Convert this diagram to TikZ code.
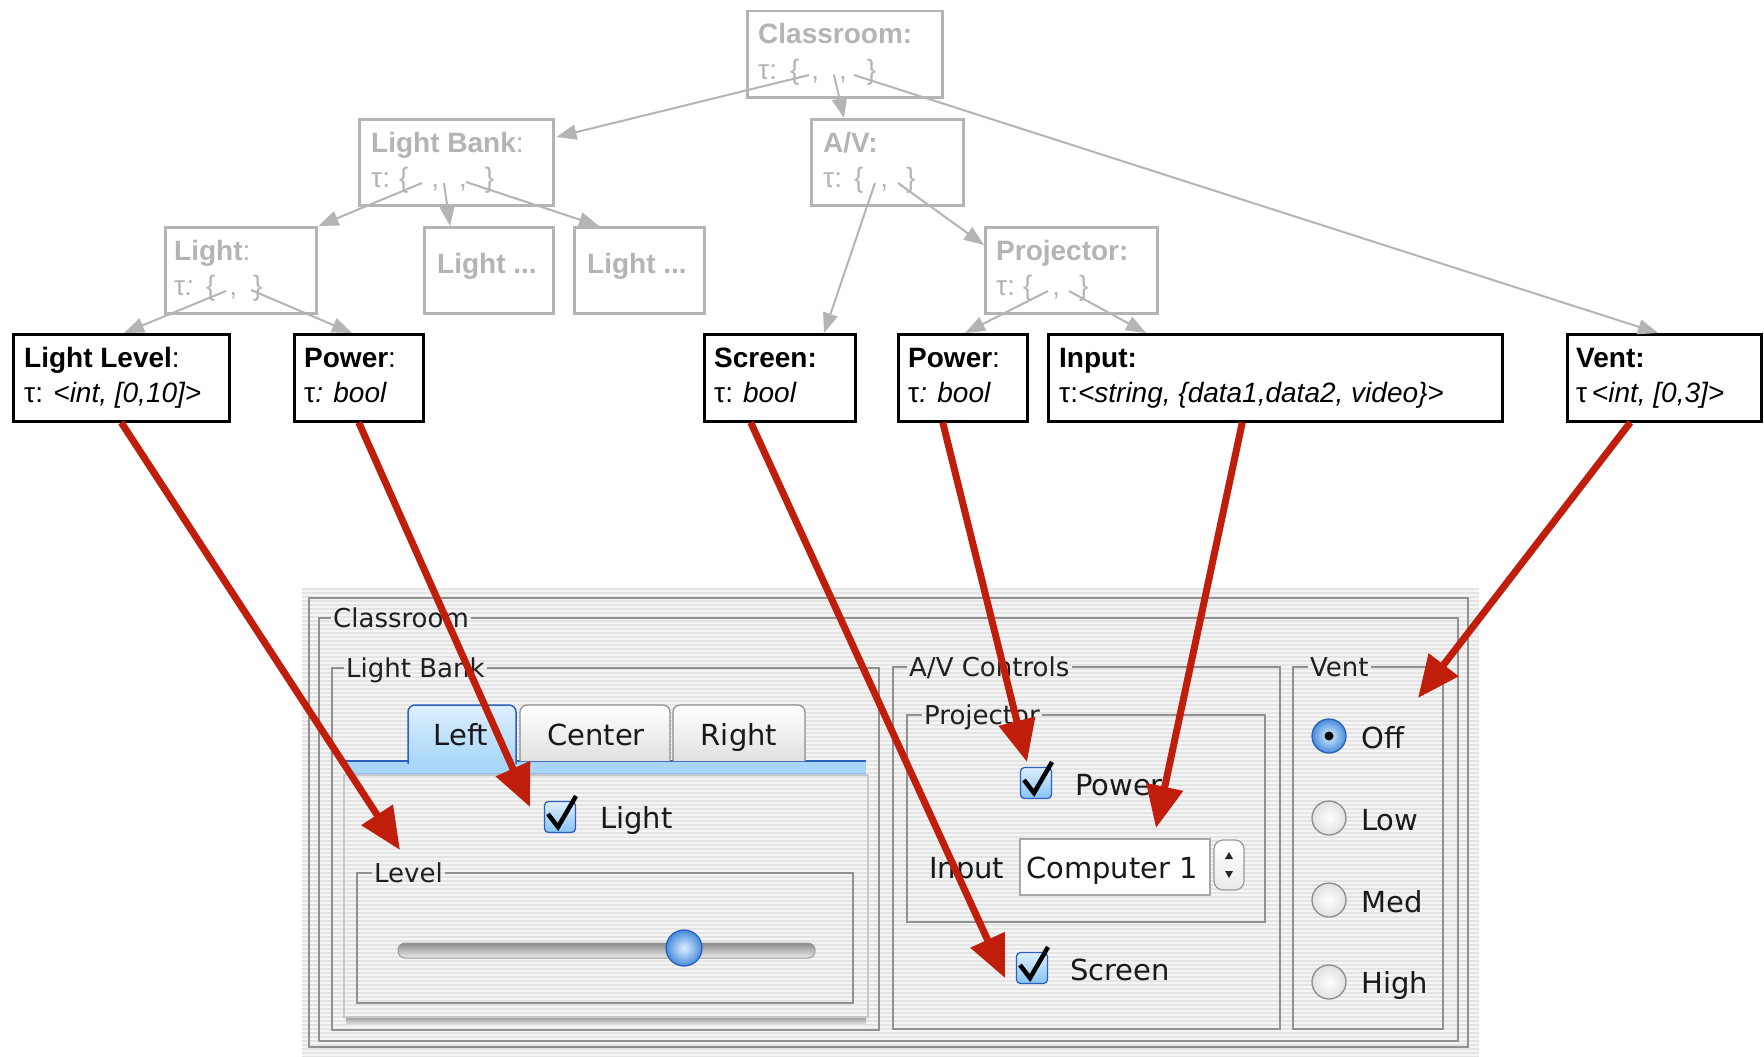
\documentclass[tikz,border=0pt]{standalone}
\usepackage{fontspec}
\newfontfamily\treefont{Liberation Sans}
\newfontfamily\guifont{DejaVu Sans}
\usetikzlibrary{arrows.meta,calc}
\definecolor{treegray}{RGB}{180,180,180}
\definecolor{arrowred}{RGB}{192,30,10}
\definecolor{bgA}{RGB}{245,245,245}
\definecolor{bgB}{RGB}{228,228,228}
\definecolor{grpline}{RGB}{145,145,145}
\definecolor{aquaLight}{RGB}{222,239,253}
\definecolor{aquaMid}{RGB}{135,194,244}
\definecolor{aquaDark}{RGB}{70,140,220}
\definecolor{aquaBorder}{RGB}{45,95,190}
\definecolor{barBlue}{RGB}{168,214,248}
\tikzset{
  gbox/.style={draw=treegray, line width=2.5pt, anchor=north west, inner sep=0pt},
  bbox/.style={draw=black, line width=2.5pt, anchor=north west, inner sep=0pt},
  gtxt/.style={font=\treefont\fontsize{28}{30}\selectfont, text=treegray, anchor=base west, inner sep=0pt},
  btxt/.style={font=\treefont\fontsize{28}{30}\selectfont, text=black, anchor=base west, inner sep=0pt},
  garr/.style={draw=treegray, line width=2pt, -{Triangle[length=20pt,width=15pt]}},
  redarr/.style={draw=arrowred, line width=7pt, -{Triangle[length=42pt,width=36pt]}},
  grp/.style={draw=grpline, line width=1.8pt},
  gtitle/.style={font=\guifont\fontsize{26}{28}\selectfont, text=black!88, anchor=west, inner xsep=2pt, inner ysep=0pt, text height=19pt, text depth=0pt},
  glabel/.style={font=\guifont\fontsize{29}{31}\selectfont, text=black!90, anchor=base west, inner sep=0pt},
  chk/.style={rectangle, rounded corners=4pt, minimum size=31pt, inner sep=0pt, draw=aquaBorder, line width=1.3pt, top color=aquaLight, bottom color=aquaMid},
  chkmark/.style={draw=black, line width=4.5pt, line join=miter},
  knob/.style={circle, minimum size=36pt, inner sep=0pt, draw=aquaBorder, line width=1.3pt, inner color=aquaLight, outer color=aquaDark},
  radOn/.style={circle, minimum size=34pt, inner sep=0pt, draw=aquaBorder, line width=1.3pt, inner color=aquaLight, outer color=aquaDark},
  radOff/.style={circle, minimum size=34pt, inner sep=0pt, draw=black!45, line width=1.3pt, inner color=white, outer color=black!12},
  field/.style={rectangle, minimum width=190pt, minimum height=56pt, inner sep=0pt, fill=white, draw=black!35, line width=1.2pt},
  spin/.style={rectangle, rounded corners=9pt, minimum width=30pt, minimum height=50pt, inner sep=0pt, draw=black!40, line width=1.2pt, top color=white, bottom color=black!8}
}
\begin{document}
\begin{tikzpicture}[x=1pt,y=-1pt]
\useasboundingbox (0,0) rectangle (1764,1057);
\fill[white] (0,0) rectangle (1764,1057);

% ---------- GUI screenshot ----------
\fill[bgA] (302,588) rectangle (1479,1057);
\foreach \yy in {589,593,...,1057} {\draw[bgB, line width=2pt] (302,\yy) -- (1479,\yy);}
\draw[grp] (309,598) rectangle (1468,1047);

\node[gtitle] (tCls) at (331,618) {Classroom};
\draw[grp] (tCls.east) -- (1458,618) -- (1458,1041) -- (319,1041) -- (319,618) -- (tCls.west);

\node[gtitle] (tLB) at (344,668) {Light Bank};
\draw[grp] (tLB.east) -- (879,668) -- (879,1030) -- (332,1030) -- (332,668) -- (tLB.west);

% tab content panel
\shade[top color=black!40, bottom color=bgA] (346,1017) rectangle (866,1026);
\draw[black!22, line width=1.2pt] (344,775) rectangle (868,1017);
\fill[barBlue] (346,761) rectangle (866,773);
\draw[aquaBorder, line width=1.5pt] (346,761) -- (866,761);
\draw[aquaDark!60, line width=1pt] (346,773) -- (866,773);
\shadedraw[top color=white, bottom color=black!12, draw=black!45, line width=1.2pt, rounded corners=7pt] (520,761) -- (520,705) -- (670,705) -- (670,761);
\shadedraw[top color=white, bottom color=black!12, draw=black!45, line width=1.2pt, rounded corners=7pt] (673,761) -- (673,705) -- (805,705) -- (805,761);
\shadedraw[top color=aquaLight, bottom color=barBlue, draw=aquaBorder, line width=1.5pt, rounded corners=7pt] (408,764) -- (408,705) -- (516,705) -- (516,764);
\node[glabel, anchor=base] (tabL) at (461,745) {Left};
\node[glabel, anchor=base] (tabC) at (596,745) {Center};
\node[glabel, anchor=base] (tabR) at (739,745) {Right};

\node[chk] (cbL) at (560,817) {};
\draw[chkmark] ($(cbL.center)+(-12,-3)$) -- ($(cbL.center)+(-2,10)$) -- ($(cbL.center)+(16,-21)$);
\node[glabel] (lbLight) at (600,828) {Light};

\node[gtitle] (tLev) at (372,873) {Level};
\draw[grp] (tLev.east) -- (853,873) -- (853,1003) -- (357,1003) -- (357,873) -- (tLev.west);
\shadedraw[top color=black!45, bottom color=black!8, draw=black!40, line width=1pt, rounded corners=7pt] (398,943) rectangle (815,958);
\node[knob] (knob) at (684,948) {};

\node[gtitle] (tAV) at (907,667) {A/V Controls};
\draw[grp] (tAV.east) -- (1280,667) -- (1280,1029) -- (893,1029) -- (893,667) -- (tAV.west);
\node[gtitle] (tPj) at (922,715) {Projector};
\draw[grp] (tPj.east) -- (1265,715) -- (1265,922) -- (907,922) -- (907,715) -- (tPj.west);

\node[chk] (cbP) at (1036,783) {};
\draw[chkmark] ($(cbP.center)+(-12,-3)$) -- ($(cbP.center)+(-2,10)$) -- ($(cbP.center)+(16,-21)$);
\node[glabel] (lbP) at (1075,795) {Power};
\node[glabel] (lbI) at (929,878) {Input};
\node[field] (fld) at (1115,867) {};
\node[glabel] (fldT) at (1026,878) {Computer 1};
\node[spin] (spn) at (1229,865) {};
\fill[black!85] ($(spn.center)+(-4,-6)$) -- ($(spn.center)+(4,-6)$) -- ($(spn.center)+(0,-13)$) -- cycle;
\fill[black!85] ($(spn.center)+(-4,6)$) -- ($(spn.center)+(4,6)$) -- ($(spn.center)+(0,13)$) -- cycle;

\node[chk] (cbS) at (1032,968) {};
\draw[chkmark] ($(cbS.center)+(-12,-3)$) -- ($(cbS.center)+(-2,10)$) -- ($(cbS.center)+(16,-21)$);
\node[glabel] (lbS) at (1070,980) {Screen};

\node[gtitle] (tVt) at (1308,667) {Vent};
\draw[grp] (tVt.east) -- (1443,667) -- (1443,1029) -- (1293,1029) -- (1293,667) -- (tVt.west);
\node[radOn] (rOff) at (1329,736) {};
\fill[black] (rOff.center) circle (4.5pt);
\node[radOff] (rLow) at (1329,818) {};
\node[radOff] (rMed) at (1329,900) {};
\node[radOff] (rHigh) at (1329,982) {};
\node[glabel] (lOff) at (1361,748) {Off};
\node[glabel] (lLow) at (1361,830) {Low};
\node[glabel] (lMed) at (1361,912) {Med};
\node[glabel] (lHigh) at (1361,993) {High};

% ---------- tree ----------
\node[gbox, minimum width=195pt, minimum height=86pt] (cls) at (746,10) {};
\node[gbox, minimum width=194pt, minimum height=86pt] (lb) at (358,118) {};
\node[gbox, minimum width=152pt, minimum height=86pt] (av) at (810,118) {};
\node[gbox, minimum width=151pt, minimum height=86pt] (light) at (164,226) {};
\node[gbox, minimum width=129pt, minimum height=86pt] (l1) at (423,226) {};
\node[gbox, minimum width=130pt, minimum height=86pt] (l2) at (573,226) {};
\node[gbox, minimum width=172pt, minimum height=86pt] (proj) at (984,226) {};

\node[bbox, minimum width=216pt, minimum height=87pt] (ll) at (12,333) {};
\node[bbox, minimum width=129pt, minimum height=87pt] (pw1) at (293,333) {};
\node[bbox, minimum width=151pt, minimum height=87pt] (scr) at (703,333) {};
\node[bbox, minimum width=129pt, minimum height=87pt] (pw2) at (897,333) {};
\node[bbox, minimum width=454pt, minimum height=87pt] (inp) at (1047,333) {};
\node[bbox, minimum width=194pt, minimum height=87pt] (vent) at (1566,333) {};

\node[gtxt] (clsA) at ($(cls.north west)+(12,34)$) {\bfseries Classroom:};
\node[gtxt] (clsB) at ($(cls.north west)+(12,69)$) {τ:\hspace{13pt}\{\hspace{12pt},\hspace{20pt},\hspace{20pt}\}};
\node[gtxt] (lbA) at ($(lb.north west)+(13,34)$) {\bfseries Light Bank\mdseries:};
\node[gtxt] (lbB) at ($(lb.north west)+(13,69)$) {τ:\hspace{9pt}\{\hspace{23pt},\hspace{20pt},\hspace{18pt}\}};
\node[gtxt] (avA) at ($(av.north west)+(13,34)$) {\bfseries A/V:};
\node[gtxt] (avB) at ($(av.north west)+(13,69)$) {τ:\hspace{12pt}\{\hspace{17pt},\hspace{18pt}\}};
\node[gtxt] (lightA) at ($(light.north west)+(10,34)$) {\bfseries Light\mdseries:};
\node[gtxt] (lightB) at ($(light.north west)+(10,69)$) {τ\textit{:}\hspace{13pt}\{\hspace{14pt},\hspace{16pt}\}};
\node[gtxt] (l1A) at ($(l1.north west)+(14,47)$) {\bfseries Light ...};
\node[gtxt] (l2A) at ($(l2.north west)+(14,47)$) {\bfseries Light ...};
\node[gtxt] (projA) at ($(proj.north west)+(12,34)$) {\bfseries Projector:};
\node[gtxt] (projB) at ($(proj.north west)+(12,69)$) {τ:\hspace{8pt}\{\hspace{20pt},\hspace{19pt}\}};

\node[btxt] (llA) at ($(ll.north west)+(12,34)$) {\bfseries Light Level\mdseries:};
\node[btxt] (llB) at ($(ll.north west)+(12,69)$) {τ: \textit{<int, [0,10]>}};
\node[btxt] (pw1A) at ($(pw1.north west)+(11,34)$) {\bfseries Power\mdseries:};
\node[btxt] (pw1B) at ($(pw1.north west)+(11,69)$) {τ\textit{: bool}};
\node[btxt] (scrA) at ($(scr.north west)+(11,34)$) {\bfseries Screen:};
\node[btxt] (scrB) at ($(scr.north west)+(11,69)$) {τ:\hspace{10pt}\textit{bool}};
\node[btxt] (pw2A) at ($(pw2.north west)+(11,34)$) {\bfseries Power\mdseries:};
\node[btxt] (pw2B) at ($(pw2.north west)+(11,69)$) {τ\textit{: bool}};
\node[btxt] (inpA) at ($(inp.north west)+(12,34)$) {\bfseries Input:};
\node[btxt] (inpB) at ($(inp.north west)+(12,69)$) {τ:\textit{<string, \{data1,data2, video\}>}};
\node[btxt] (ventA) at ($(vent.north west)+(10,34)$) {\bfseries Vent:};
\node[btxt] (ventB) at ($(vent.north west)+(10,69)$) {τ\,\textit{<int, [0,3]>}};

% grey tree edges
\draw[garr] ($(cls.north west)+(63,65)$) -- ($(lb.north east)+(2,19)$);
\draw[garr] ($(cls.north west)+(88,65)$) -- ($(av.north west)+(34,0)$);
\draw[garr] ($(cls.north west)+(108,65)$) -- ($(vent.north west)+(92,0)$);
\draw[garr] ($(lb.north west)+(64,65)$) -- ($(light.north east)+(1,0)$);
\draw[garr] ($(lb.north west)+(86,65)$) -- ($(l1.north west)+(27,0)$);
\draw[garr] ($(lb.north west)+(108,64)$) -- ($(l2.north west)+(26,0)$);
\draw[garr] ($(light.north west)+(62,65)$) -- ($(ll.north west)+(112,0)$);
\draw[garr] ($(light.north west)+(87,64)$) -- ($(pw1.north west)+(59,0)$);
\draw[garr] ($(av.north west)+(65,65)$) -- ($(scr.north west)+(121,0)$);
\draw[garr] ($(av.north west)+(88,65)$) -- ($(proj.north west)+(0,19)$);
\draw[garr] ($(proj.north west)+(64,65)$) -- ($(pw2.north west)+(68,0)$);
\draw[garr] ($(proj.north west)+(85,65)$) -- ($(inp.north west)+(99,0)$);

% red mapping arrows
\coordinate (tgLL) at (400,850);
\coordinate (tgPW1) at (530,807);
\coordinate (tgSCR) at (1005,978);
\coordinate (tgPW2) at (1027,762);
\coordinate (tgINP) at (1156,828);
\coordinate (tgVENT) at (1418,698);
\draw[redarr] (ll.south) -- (tgLL);
\draw[redarr] (pw1.south) -- (tgPW1);
\draw[redarr] ([xshift=-29pt]scr.south) -- (tgSCR);
\draw[redarr] ([xshift=-20pt]pw2.south) -- (tgPW2);
\draw[redarr] ([xshift=-33pt]inp.south) -- (tgINP);
\draw[redarr] ([xshift=-34pt]vent.south) -- (tgVENT);
\end{tikzpicture}
\end{document}
